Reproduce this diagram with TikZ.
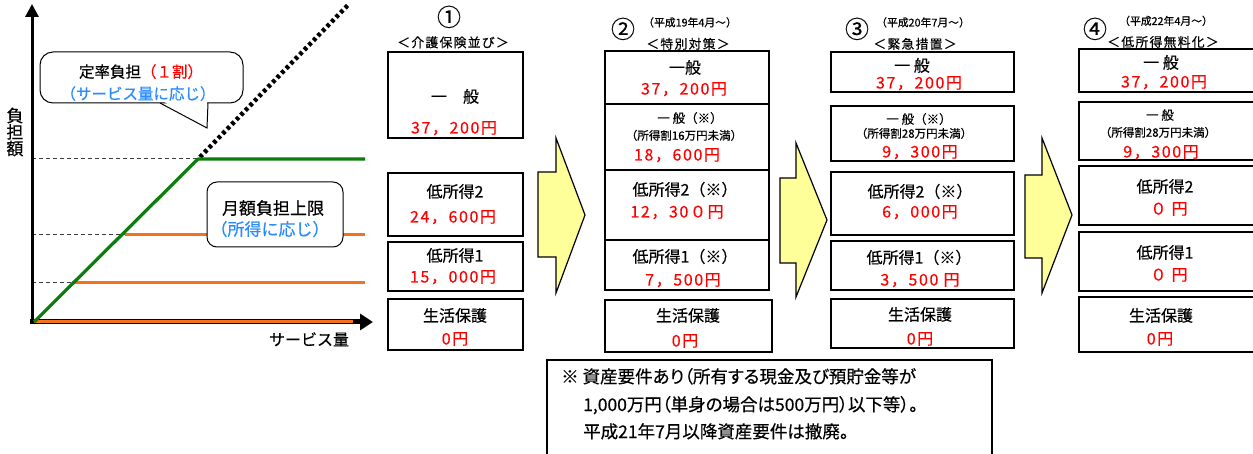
\documentclass[tikz,border=0pt]{standalone}
\usepackage{fontspec}
\setmainfont{Noto Sans CJK JP}[FakeBold=0.4]
\usetikzlibrary{arrows.meta}
\definecolor{cred}{RGB}{255,0,0}
\definecolor{cblue}{RGB}{40,140,255}
\definecolor{cgreen}{RGB}{10,125,10}
\definecolor{corange}{RGB}{247,112,30}
\definecolor{cyellow}{RGB}{255,255,153}
\definecolor{cdash}{RGB}{60,60,60}
\newcommand\bx[5]{\node[bx,minimum width=#4pt,minimum height=#5pt,anchor=north west] (#1) at (#2,#3) {};}
\newcommand\tx[5]{\node[#1] (#2) at (#3,#4) {#5};}
\begin{document}
\begin{tikzpicture}[x=1pt,y=-1pt,
  bx/.style={draw=black,line width=1.6pt,fill=white,inner sep=0pt,outer sep=0pt},
  lab/.style={inner sep=0pt,text height=13pt,text depth=2pt,font=\fontsize{16}{18}\selectfont},
  num/.style={inner sep=0pt,text height=13pt,text depth=2pt,text=cred,font=\fontsize{16}{18}\selectfont\addfontfeatures{LetterSpace=10}},
  sm/.style={inner sep=0pt,text height=9pt,text depth=1.5pt,font=\fontsize{11.5}{13}\selectfont},
  dt/.style={inner sep=0pt,text height=8.5pt,text depth=1.5pt,font=\fontsize{10.8}{12}\selectfont},
  hd/.style={inner sep=0pt,text height=10pt,text depth=1.5pt,font=\fontsize{12.8}{14}\selectfont\addfontfeatures{LetterSpace=10}},
  circ/.style={inner sep=0pt,text height=18pt,text depth=2pt,font=\fontsize{24}{26}\selectfont},
  glab/.style={inner sep=0pt,text height=13pt,text depth=2pt,font=\fontsize{15.5}{17.5}\selectfont},
  blockarrow/.style={draw=black,line width=1.2pt,fill=cyellow,line join=miter},
  note/.style={inner sep=0pt,anchor=west,text height=14pt,text depth=2pt,font=\fontsize{17.5}{19}\selectfont\addfontfeatures{RawFeature=+palt}}]
\useasboundingbox (0,0) rectangle (1253,454);
\fill[white] (0,0) rectangle (1253,454);

% ---------- graph ----------
\draw[cdash,line width=1pt,dash pattern=on 4pt off 3pt] (32,159) -- (198,159);
\draw[cdash,line width=1pt,dash pattern=on 4pt off 3pt] (32,235) -- (125,235);
\draw[cdash,line width=1pt,dash pattern=on 4pt off 3pt] (32,283) -- (72,283);
\draw[corange,line width=3pt] (125,235) -- (365,235);
\draw[corange,line width=3pt] (72,283) -- (365,283);
\draw[black,line width=3pt,-{Triangle[width=13pt,length=13pt]}] (32,323.5) -- (32,4);
\draw[black,line width=5pt,-{Triangle[width=16pt,length=13pt]}] (30,322) -- (373,322);
\draw[corange,line width=3pt] (34,322) -- (353,322);
\draw[black,line width=4.5pt,dash pattern=on 3.5pt off 3pt] (200,157) -- (349,4);
\draw[cgreen,line width=3.2pt,line join=round] (34,322) -- (198,159) -- (365,159);

\node[inner sep=0pt,align=center,font=\fontsize{17}{16.5}\selectfont] (ylab) at (15,132) {負\\担\\額};
\tx{glab,font=\fontsize{16}{18}\selectfont}{xlab}{309}{340}{サービス量}

% callout
\node[draw=black,line width=1pt,fill=white,rounded corners=13pt,minimum width=203pt,minimum height=51pt,anchor=north west,inner sep=0pt,outer sep=0pt] (callout) at (40,52) {};
\fill[white] (161,100) -- (207,100) -- (207,126) -- cycle;
\draw[black,line width=1pt,line join=miter] (160,103) -- (207,128) -- (208,103);
\tx{glab}{ct1}{141}{72}{定率負担\textcolor{cred}{（１割）}}
\tx{glab,text=cblue}{ct2}{138}{94}{（サービス量に応じ）}

% limit box
\node[draw=black,line width=1pt,fill=white,rounded corners=10pt,minimum width=136pt,minimum height=65pt,anchor=north west,inner sep=0pt,outer sep=0pt] (limbox) at (207,182) {};
\tx{glab,font=\fontsize{17}{19}\selectfont}{lt1}{273}{209}{月額負担上限}
\tx{glab,text=cblue,font=\fontsize{17}{19}\selectfont}{lt2}{270}{230}{（所得に応じ）}

% ---------- column 1 ----------
\tx{circ}{c1}{449}{18}{①}
\tx{hd}{h1}{453}{43}{＜介護保険並び＞}
\bx{b11}{388}{52}{135}{86}
\bx{b12}{388}{173}{135}{63}
\bx{b13}{388}{242}{135}{49}
\bx{b14}{388}{299}{135}{51}
\tx{lab}{t11a}{455}{97}{一　般}
\tx{num}{t11b}{454}{128}{37，200円}
\tx{lab}{t12a}{455}{192}{低所得2}
\tx{num}{t12b}{453}{217}{24，600円}
\tx{lab}{t13a}{455}{256}{低所得1}
\tx{num}{t13b}{453}{277}{15，000円}
\tx{lab}{t14a}{455}{316}{生活保護}
\tx{num}{t14b}{455}{339}{0円}

\draw[blockarrow] (538,172) -- (556,172) -- (556,138) -- (585,215) -- (556,293) -- (556,257) -- (538,257) -- cycle;

% ---------- column 2 ----------
\tx{circ}{c2}{623}{30}{②}
\tx{dt}{d2}{690}{23}{（平成19年4月～）}
\tx{hd}{h2}{688}{44.5}{＜特別対策＞}
\bx{b21}{605}{51}{164}{53}
\bx{b22}{605}{104}{164}{66}
\bx{b23}{605}{170}{164}{70}
\bx{b24}{605}{240}{164}{50}
\bx{b25}{605}{300}{167}{52}
\tx{lab}{t21a}{685}{68}{一般}
\tx{num}{t21b}{684}{89}{37，200円}
\tx{sm,font=\fontsize{12.5}{14}\selectfont}{t22a}{690}{119}{一 般（※）}
\tx{sm}{t22b}{684}{136}{（所得割16万円未満）}
\tx{num}{t22c}{677}{155}{18，600円}
\tx{lab}{t23a}{685}{190}{低所得2（※）}
\tx{num}{t23b}{677}{212}{12，30０円}
\tx{lab}{t24a}{685}{257}{低所得1（※）}
\tx{num}{t24b}{683}{280}{7，500円}
\tx{lab}{t25a}{688}{316}{生活保護}
\tx{num}{t25b}{685}{341}{0円}

\draw[blockarrow] (780,178) -- (796,178) -- (796,143) -- (827,220) -- (796,297) -- (796,263) -- (780,263) -- cycle;

% ---------- column 3 ----------
\tx{circ}{c3}{857}{30}{③}
\tx{dt}{d3}{923}{23}{（平成20年7月～）}
\tx{hd}{h3}{915}{44.5}{＜緊急措置＞}
\bx{b31}{831}{52}{183}{40}
\bx{b32}{831}{106}{183}{55}
\bx{b33}{831}{172}{183}{63}
\bx{b34}{831}{241}{183}{49}
\bx{b35}{831}{299}{183}{49}
\tx{lab}{t31a}{912}{66}{一 般}
\tx{num}{t31b}{919}{83}{37，200円}
\tx{sm,font=\fontsize{12.5}{14}\selectfont}{t32a}{919}{120}{一 般（※）}
\tx{sm}{t32b}{914}{134}{（所得割28万円未満）}
\tx{num}{t32c}{920}{152}{9，300円}
\tx{lab}{t33a}{920}{192}{低所得2（※）}
\tx{num}{t33b}{920}{212}{6，000円}
\tx{lab}{t34a}{919}{258}{低所得1（※）}
\tx{num}{t34b}{920}{280}{3，500 円}
\tx{lab}{t35a}{920}{315}{生活保護}
\tx{num}{t35b}{920}{339}{0円}

\draw[blockarrow] (1025,175) -- (1042,175) -- (1042,138) -- (1072,215) -- (1042,293) -- (1042,258) -- (1025,258) -- cycle;

% ---------- column 4 ----------
\tx{circ}{c4}{1095}{30}{④}
\tx{dt}{d4}{1166}{21.5}{（平成22年4月～）}
\tx{hd}{h4}{1163}{42.5}{＜低所得無料化＞}
\bx{b41}{1079}{49}{180}{43}
\bx{b42}{1079}{102}{180}{58}
\bx{b43}{1079}{166}{180}{59}
\bx{b44}{1079}{232}{180}{59}
\bx{b45}{1079}{297}{180}{55}
\tx{lab}{t41a}{1161}{63}{一 般}
\tx{num}{t41b}{1164}{82}{37，200円}
\tx{sm,font=\fontsize{12.5}{14}\selectfont}{t42a}{1160}{116}{一 般}
\tx{sm}{t42b}{1158}{133}{（所得割28万円未満）}
\tx{num}{t42c}{1161}{152}{9，300円}
\tx{lab}{t43a}{1165}{187}{低所得2}
\tx{num}{t43b}{1169}{209}{０ 円}
\tx{lab}{t44a}{1165}{253}{低所得1}
\tx{num}{t44b}{1169}{275}{０ 円}
\tx{lab}{t45a}{1161}{316}{生活保護}
\tx{num}{t45b}{1160}{339}{0円}

% ---------- note ----------
\node[draw=black,line width=1.2pt,fill=white,minimum width=445pt,minimum height=120pt,anchor=north west,inner sep=0pt,outer sep=0pt] (notebox) at (547,360) {};
\node[note] (n1) at (561,377) {※ 資産要件あり（所有する現金及び預貯金等が};
\node[note] (n2) at (583,405) {1,000万円（単身の場合は500万円）以下等）。};
\node[note] (n3) at (583,432) {平成21年7月以降資産要件は撤廃。};
\end{tikzpicture}
\end{document}
